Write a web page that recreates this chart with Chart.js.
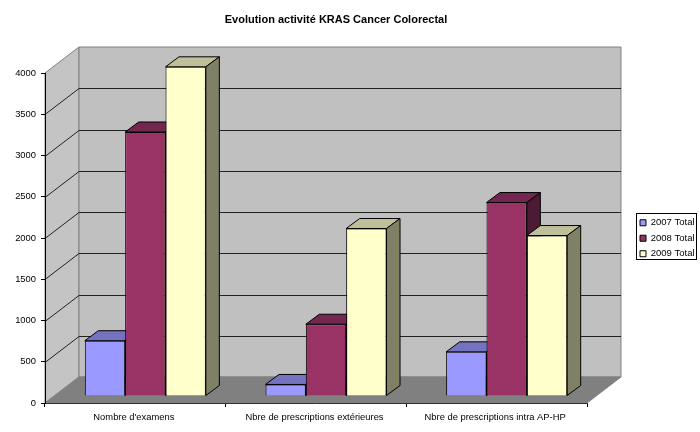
<!DOCTYPE html>
<html>
<head>
<meta charset="utf-8">
<title>Evolution activité KRAS Cancer Colorectal</title>
<script src="https://cdn.jsdelivr.net/npm/chart.js@4"></script>
<style>
    html, body { margin: 0; padding: 0; background: #fff; }
    canvas { display: block; }
</style>
</head>
<body>
<canvas id="chart" width="700" height="432"></canvas>
<script>
const categories = ['Nombre d\'examens', 'Nbre de prescriptions extérieures', 'Nbre de prescriptions intra AP-HP'];
const seriesNames = ['2007 Total', '2008 Total', '2009 Total'];
const values2007 = [670, 140, 535];
const values2008 = [3200, 870, 2345];
const values2009 = [3990, 2030, 1945];
const frontColors = ['#9999ff', '#993366', '#ffffcc'];
const topColors = ['#7373bf', '#732650', '#bfbf99'];
const sideColors = ['#4d4d80', '#4d1a33', '#808066'];

const fontName = '"Liberation Sans", Arial, sans-serif';

// Depth of the box behind the axes, and of the bars inside it
const wallDepthX = 34;
const wallDepthY = 26;
const barShiftX = 10;
const barShiftY = 7;
const barDepthX = 13.5;
const barDepthY = 10;

function polygon(ctx, points, fill, stroke) {
    ctx.beginPath();
    points.forEach((p, i) => i ? ctx.lineTo(p[0], p[1]) : ctx.moveTo(p[0], p[1]));
    ctx.closePath();
    ctx.fillStyle = fill;
    ctx.fill();
    ctx.strokeStyle = stroke;
    ctx.lineWidth = 1;
    ctx.stroke();
}

// Left wall, back wall and floor, with the gridlines
const wallsPlugin = {
    id: 'walls',
    beforeDraw(chart) {
        const ctx = chart.ctx;
        const { left, right, top, bottom } = chart.chartArea;
        const backLeft = left + wallDepthX;
        const backRight = right + wallDepthX;
        const backTop = top - wallDepthY;
        const backBottom = bottom - wallDepthY;

        ctx.save();
        polygon(ctx, [[left, top], [backLeft, backTop], [backLeft, backBottom], [left, bottom]], '#c4c4c4', '#808080');
        polygon(ctx, [[backLeft, backTop], [backRight, backTop], [backRight, backBottom], [backLeft, backBottom]], '#c0c0c0', '#808080');
        polygon(ctx, [[left, bottom], [backLeft, backBottom], [backRight, backBottom], [right, bottom]], '#808080', '#808080');

        ctx.strokeStyle = '#222';
        ctx.lineWidth = 1;
        chart.scales.y.ticks.forEach(tick => {
            if (tick.value === 0 || tick.value === 4000) return;
            const y = Math.round(chart.scales.y.getPixelForValue(tick.value)) + 0.5;
            ctx.beginPath();
            ctx.moveTo(left, y);
            ctx.lineTo(backLeft, y - wallDepthY);
            ctx.lineTo(backRight, y - wallDepthY);
            ctx.stroke();
        });
        ctx.restore();
    }
};

// Bars are drawn left to right so that each one hides the side of the one before
const bars3dPlugin = {
    id: 'bars3d',
    beforeDatasetDraw() {
        return false;
    },
    afterDatasetsDraw(chart) {
        const ctx = chart.ctx;
        ctx.save();
        ctx.translate(barShiftX, -barShiftY);
        chart.data.datasets.forEach((dataset, i) => {
            chart.getDatasetMeta(i).data.forEach(bar => {
                const { x, y, base, width } = bar.getProps(['x', 'y', 'base', 'width'], true);
                const l = x - width / 2;
                const r = x + width / 2;
                polygon(ctx, [[l, y], [l + barDepthX, y - barDepthY], [r + barDepthX, y - barDepthY], [r, y]], topColors[i], '#000');
                polygon(ctx, [[r, y], [r + barDepthX, y - barDepthY], [r + barDepthX, base - barDepthY], [r, base]], sideColors[i], '#000');
                bar.draw(ctx);
            });
        });
        ctx.restore();
    }
};

// Centres the title on the page, moves the legend out of the plot and frames it
const placementPlugin = {
    id: 'placement',
    afterLayout(chart) {
        const title = chart.titleBlock;
        title.left = 0;
        title.right = 672;

        const legend = chart.legend;
        legend.left = 634;
        legend.top = 212;
        legend.right = 697;
        legend.bottom = 300; // roomy, otherwise the last item wraps to a new column
    },
    beforeDatasetsDraw(chart) {
        const ctx = chart.ctx;
        ctx.save();
        ctx.strokeStyle = '#000';
        ctx.lineWidth = 1;
        ctx.strokeRect(636.5, 213.5, 60, 46);
        ctx.restore();
    }
};

new Chart(document.getElementById('chart'), {
    type: 'bar',
    data: {
        labels: categories,
        datasets: [values2007, values2008, values2009].map((values, i) => ({
            label: seriesNames[i],
            data: values,
            backgroundColor: frontColors[i],
            borderColor: '#000',
            borderWidth: 1,
            categoryPercentage: 0.67,
            barPercentage: 1
        }))
    },
    plugins: [wallsPlugin, bars3dPlugin, placementPlugin],
    options: {
        responsive: false,
        animation: false,
        layout: { padding: { left: 0, right: 113, top: 0, bottom: 0 } },
        plugins: {
            title: {
                display: true,
                text: 'Evolution activité KRAS Cancer Colorectal',
                color: '#000',
                font: { family: fontName, size: 11, weight: 'bold' },
                padding: { top: 13, bottom: 46.8 }
            },
            legend: {
                position: 'chartArea',
                align: 'start',
                labels: {
                    boxWidth: 6,
                    boxHeight: 6,
                    padding: 6,
                    color: '#000',
                    font: { family: fontName, size: 9.5 }
                }
            },
            tooltip: { enabled: false }
        },
        scales: {
            x: {
                afterFit(scale) { scale.height = 29; },
                border: { color: '#333', width: 1 },
                grid: { drawOnChartArea: false, color: '#000', tickLength: 4 },
                ticks: {
                    color: '#000',
                    padding: 5,
                    labelOffset: -1.5,
                    maxRotation: 0,
                    autoSkip: false,
                    font: { family: fontName, size: 9.4 }
                }
            },
            y: {
                min: 0,
                max: 4000,
                afterFit(scale) { scale.width = 45; },
                border: { color: '#000', width: 1 },
                grid: { drawOnChartArea: false, color: '#000', tickLength: 4 },
                ticks: {
                    stepSize: 500,
                    color: '#000',
                    padding: 5,
                    callback: value => String(value),
                    font: { family: fontName, size: 9.4 }
                }
            }
        }
    }
});
</script>
</body>
</html>
